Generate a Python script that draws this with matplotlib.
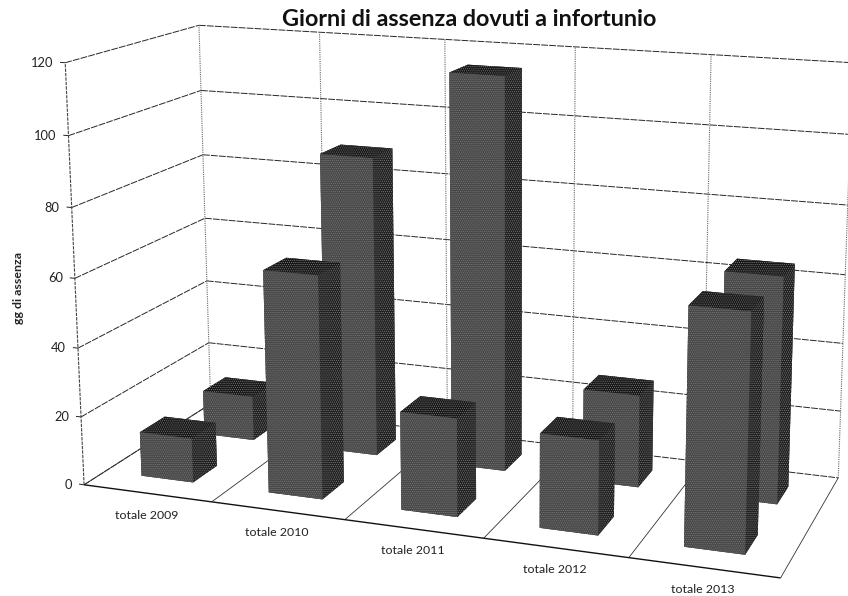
import numpy as np
import matplotlib
matplotlib.use("Agg")
import matplotlib.pyplot as plt
from mpl_toolkits.mplot3d.art3d import Line3DCollection

# Valori
categorie = ["totale 2009", "totale 2010", "totale 2011", "totale 2012", "totale 2013"]
serie_davanti = [13, 64, 28, 26.5, 65.5]
serie_dietro = [13.5, 89, 115, 27, 65]
tick_y = [0, 20, 40, 60, 80, 100, 120]

plt.rcParams["font.family"] = ["Lato", "DejaVu Sans"]
plt.rcParams["hatch.color"] = "#7a7a7a"
plt.rcParams["hatch.linewidth"] = 0.5

# Angoli della scatola 3D (categoria, serie, valore) -> pixel dello scan
cal_3d = [(0, 0, 0), (5, 0, 0), (5, 2, 0), (0, 2, 0), (0, 0, 120), (0, 0, 60), (0, 2, 120),
          (5, 2, 120), (1, 2, 120), (4, 2, 120), (4, 2, 60), (1, 0, 0), (2, 0, 0), (4, 0, 0)]
cal_px = [(85, 483), (782, 578), (838, 478), (209, 404), (64, 63), (74, 279), (200, 25),
          (850, 62), (320, 33), (713, 54), (708, 263), (213, 502), (345, 520), (627, 558)]


# Matrice di proiezione calcolata dai punti sopra (DLT)
def camera(p3, p2):
    A, b = [], []
    for (x, y, z), (u, v) in zip(p3, p2):
        A.append([x, y, z, 1, 0, 0, 0, 0, -u * x, -u * y, -u * z])
        A.append([0, 0, 0, 0, x, y, z, 1, -v * x, -v * y, -v * z])
        b += [u, v]
    p = np.linalg.lstsq(np.array(A, float), np.array(b, float), rcond=None)[0]
    return np.array([p[:4], p[4:8], [p[8], p[9], p[10], 0], [p[8], p[9], p[10], 1]])


# Da coordinate del grafico a coordinate dell'asse (pixel)
def proietta(x, y, z):
    p = M @ np.array([x, y, z, 1.0])
    return p[0] / p[3], p[1] / p[3]


fig = plt.figure(figsize=(8.48, 5.96), dpi=100)
ax = fig.add_axes([0, 0, 1, 1], projection="3d")
ax.set_axis_off()
ax.computed_zorder = False
M = camera(cal_3d, cal_px)
ax.get_proj = lambda: M
ax.apply_aspect = lambda position=None: None
ax.viewLim.intervalx = (0, 848)
ax.viewLim.intervaly = (596, 0)


def linee(segmenti, **stile):
    ax.add_collection3d(Line3DCollection(segmenti, zorder=1, **stile))


# Griglia su pareti e pavimento
griglia = dict(colors="#262626", linewidths=0.7, linestyles=[(0, (7, 1.2))])
punti = dict(colors="#666666", linewidths=0.8, linestyles=[(0, (1, 1))])

for v in tick_y:
    linee([[(0, 0, v), (0, 2, v)], [(0, 2, v), (5, 2, v)]], **griglia)
    linee([[(-0.04, 0, v), (0, 0, v)]], colors="#222222", linewidths=0.7)
    u, w = proietta(0, 0, v)
    ax.text2D(u - 12, w, str(v), transform=ax.transData, ha="right", va="center", fontsize=9.3, color="#222222")
for k in range(6):
    linee([[(k, 2, 0), (k, 2, 120)]], **punti)
    linee([[(k, 0, 0), (k, 2, 0)]], colors="#333333", linewidths=0.6)
linee([[(0, 0, 0), (0, 0, 120)]], colors="#444444", linewidths=0.8, linestyles=[(0, (3, 1))])
linee([[(0, 0, 0), (5, 0, 0)]], colors="#111111", linewidths=1.0)

for i, nome in enumerate(categorie):
    u, w = proietta(i + 0.5, 0, 0)
    ax.text2D(u - 1, w + 22, nome, transform=ax.transData, ha="center", va="center", fontsize=8.9, color="#222222")

# Barre: prima la fila dietro, poi quella davanti
# ordine facce: sotto, sopra, davanti, dietro, sinistra, destra
facce = ["#333333", "#161616", "#474747", "#333333", "#333333", "#202020"]
for fila, valori in [(1.31, serie_dietro), (0.31, serie_davanti)]:
    for i, v in enumerate(valori):
        b = ax.bar3d(i + 0.29, fila, 0, 0.41, 0.38, v, color=facce, shade=False, linewidth=0, zorder=3)
        b.set_hatch("........")

fig.text(469 / 848, 1 - 19 / 596, "Giorni di assenza dovuti a infortunio", ha="center", va="center",
         fontsize=16.8, fontweight="bold", color="#111111")
fig.text(18 / 848, 1 - 288 / 596, "gg di assenza", rotation=90, ha="center", va="center",
         fontsize=8.9, fontweight="bold", color="#222222")

fig.savefig("out.png", dpi=100)
